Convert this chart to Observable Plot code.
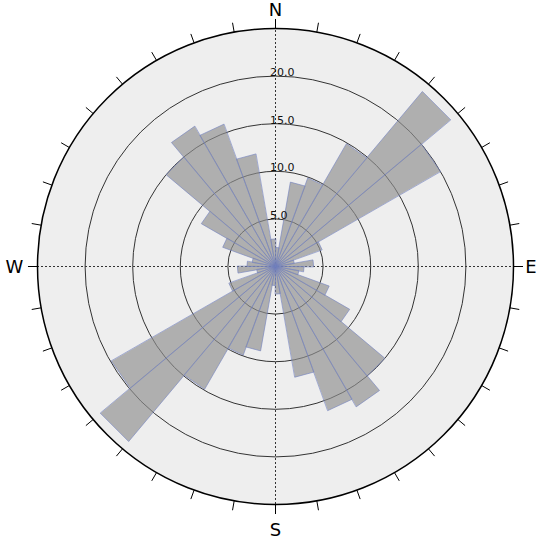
<!DOCTYPE html>
<html>
<head>
<meta charset="utf-8">
<script src="https://cdn.jsdelivr.net/npm/d3@7"></script>
<script src="https://cdn.jsdelivr.net/npm/@observablehq/plot@0.6"></script>
<style>
  html, body { margin: 0; padding: 0; background: #ffffff; }
  #chart svg { display: block; }
</style>
</head>
<body>
<div id="chart"></div>
<script>
// ---- data ----
const binStarts = [0, 10, 20, 30, 40, 50, 60, 70, 80, 90, 100, 110, 120, 130, 140, 150, 160, 170,
                   180, 190, 200, 210, 220, 230, 240, 250, 260, 270, 280, 290, 300, 310, 320, 330, 340, 350];
const binWidth = 10;
const binValues = [2.0, 9.0, 9.9, 14.9, 24.0, 20.0, 5.2, 2.0, 4.0, 3.0, 2.5, 6.0, 9.0, 15.0, 17.0, 16.1, 11.8, 2.9,
                   2.0, 9.0, 9.9, 14.9, 24.0, 19.9, 5.2, 2.0, 4.0, 3.0, 2.5, 5.9, 9.0, 15.0, 17.0, 15.9, 12.0, 2.9];
const ringValues = [5, 10, 15, 20];
const ringLabels = ["5.0", "10.0", "15.0", "20.0"];
const outerRadius = 25;
const tickAngles = [0, 10, 20, 30, 40, 50, 60, 70, 80, 90, 100, 110, 120, 130, 140, 150, 160, 170,
                    180, 190, 200, 210, 220, 230, 240, 250, 260, 270, 280, 290, 300, 310, 320, 330, 340, 350];
const compassLabels = ["N", "E", "S", "W"];
const compassAngles = [0, 90, 180, 270];

// ---- geometry helpers (compass angle: clockwise from north) ----
const rad = a => a * Math.PI / 180;
const polar = (a, r) => ({x: r * Math.sin(rad(a)), y: r * Math.cos(rad(a))});

const barPoints = binStarts.flatMap((a, i) => [
  {bin: i, ...polar(a, 0)},
  {bin: i, ...polar(a, binValues[i])},
  {bin: i, ...polar(a + binWidth, binValues[i])}
]);

const tickSegs = tickAngles.map(a => {
  const p0 = polar(a, outerRadius), p1 = polar(a, outerRadius + 1);
  return {x1: p0.x, y1: p0.y, x2: p1.x, y2: p1.y};
});

const labelOffsets = {N: [0, -18], E: [17.5, 0.8], S: [0, 25.5], W: [-23, 0.8]};
const compassMarks = compassLabels.map((t, i) => {
  const p = polar(compassAngles[i], outerRadius);
  return Plot.text([t], {
    x: () => p.x, y: () => p.y, text: d => d,
    dx: labelOffsets[t][0], dy: labelOffsets[t][1],
    fontSize: 18, fill: "#000", textAnchor: "middle", lineAnchor: "middle"
  });
});

const cx = 275, cy = 266, R = 238;

const chart = Plot.plot({
  width: 546,
  height: 546,
  margin: 0,
  style: {background: "#ffffff", fontFamily: "DejaVu Sans, sans-serif"},
  x: {domain: [-outerRadius, outerRadius], range: [cx - R, cx + R], axis: null},
  y: {domain: [-outerRadius, outerRadius], range: [cy + R, cy - R], axis: null},
  r: {type: "linear", domain: [0, outerRadius], range: [0, R]},
  marks: [
    // background disc
    Plot.dot([outerRadius], {x: 0, y: 0, r: d => d, fill: "#eeeeee", stroke: "none"}),
    // rings
    Plot.dot(ringValues, {x: 0, y: 0, r: d => d, fill: "none", stroke: "#333333", strokeWidth: 1}),
    // crosshair
    Plot.ruleX([0], {y1: -outerRadius, y2: outerRadius, stroke: "#333333", strokeWidth: 1, strokeDasharray: "2,2"}),
    Plot.ruleY([0], {x1: -outerRadius, x2: outerRadius, stroke: "#333333", strokeWidth: 1, strokeDasharray: "2,2"}),
    // rose bars
    Plot.line(barPoints, {
      x: "x", y: "y", z: "bin", curve: "linear-closed",
      fill: "#8e8e8e", fillOpacity: 0.66,
      stroke: "#7080c0", strokeOpacity: 0.75, strokeWidth: 0.8
    }),
    // outer circle
    Plot.dot([outerRadius], {x: 0, y: 0, r: d => d, fill: "none", stroke: "#000000", strokeWidth: 1.5}),
    // outer ticks
    Plot.link(tickSegs, {x1: "x1", y1: "y1", x2: "x2", y2: "y2", stroke: "#000000", strokeWidth: 1}),
    // ring labels
    Plot.text(ringValues, {
      x: 0, y: d => d, text: (d, i) => ringLabels[i],
      textAnchor: "start", lineAnchor: "bottom", dx: -5.5, dy: 0,
      fontSize: 11, fill: "#111111"
    }),
    ...compassMarks
  ]
});

document.getElementById("chart").appendChild(chart);
</script>
</body>
</html>
